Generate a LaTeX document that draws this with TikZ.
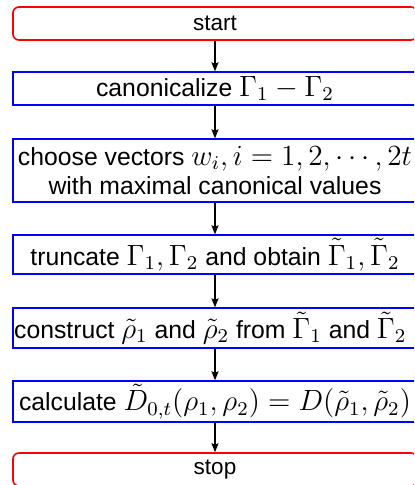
\documentclass[tikz,border=0pt]{standalone}
\usepackage{graphicx}
\usepackage{fontspec}
\setmainfont{Liberation Sans}
\usetikzlibrary{arrows.meta}
\newcommand{\mth}[1]{\scalebox{1.3}{\fontsize{12}{14.4}\selectfont$#1$}}
\tikzset{
  base/.style={minimum width=215.5pt, inner sep=0pt, align=center},
  term/.style={base, draw=red, line width=0.85pt, rounded corners=3.2pt, font=\fontsize{12}{14.4}\selectfont},
  proc/.style={base, draw=blue, line width=0.75pt, font=\fontsize{13.2}{15.6}\selectfont},
  flow/.style={draw=black, line width=0.55pt, -{Stealth[length=4.8pt,width=3.8pt,inset=0.8pt]}},
}
\begin{document}
\begin{tikzpicture}[x=0.5333pt,y=-0.5333pt]
\useasboundingbox (0,0) rectangle (414,485);
\clip (0,0) rectangle (414,485);
\node[term, minimum height=17.6pt] (start) at (215,23.5) {start};
\node[proc, minimum height=17.6pt] (canon) at (215,88.5) {canonicalize \mth{\Gamma_1-\Gamma_2}};
\node[proc, minimum height=33.6pt] (choose) at (215,170.5) {choose vectors \mth{w_i, i=1,2,\cdots,2t}\\with maximal canonical values};
\node[proc, minimum height=20.8pt] (trunc) at (215,254.5) {truncate \mth{\Gamma_1, \Gamma_2} and obtain \mth{\tilde{\Gamma}_1, \tilde{\Gamma}_2}};
\node[proc, minimum height=21.3pt] (constr) at (215,328) {construct \mth{\tilde{\rho}_1} and \mth{\tilde{\rho}_2} from \mth{\tilde{\Gamma}_1} and \mth{\tilde{\Gamma}_2}\hspace*{5pt}};
\node[proc, minimum height=21.9pt] (calc) at (215,401.5) {calculate \mth{\tilde{D}_{0,t}(\rho_1,\rho_2)=D(\tilde{\rho}_1,\tilde{\rho}_2)}};
\node[term, minimum height=17.6pt] (stop) at (215,469.5) {stop};
\draw[flow] (start) -- (canon);
\draw[flow] (canon) -- (choose);
\draw[flow] (choose) -- (trunc);
\draw[flow] (trunc) -- (constr);
\draw[flow] (constr) -- (calc);
\draw[flow] (calc) -- (stop);
\end{tikzpicture}
\end{document}
